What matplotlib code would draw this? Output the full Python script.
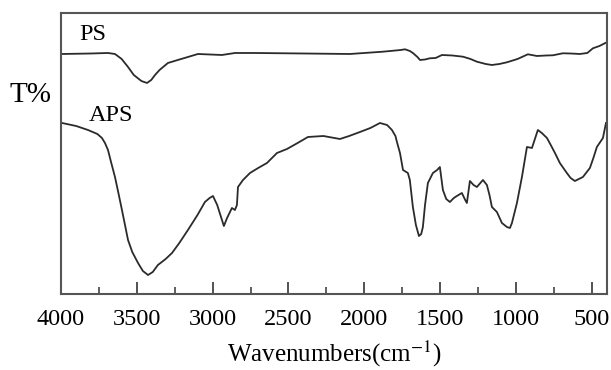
import matplotlib
matplotlib.use("Agg")
import matplotlib.pyplot as plt
from matplotlib.ticker import MultipleLocator

plt.rcParams['font.family'] = ['Liberation Serif', 'DejaVu Serif']
plt.rcParams['mathtext.fontset'] = 'stix'

# PS spectrum (wavenumber cm-1, relative transmittance)
ps_wn = [3993, 3800, 3690, 3644, 3600, 3558, 3520, 3470, 3433, 3405, 3380, 3350,
         3295, 3230, 3163, 3097, 2939, 2853, 2721, 2400, 2095, 1877, 1760, 1732,
         1700, 1680, 1650, 1633, 1600, 1568, 1530, 1488, 1420, 1350, 1300, 1258,
         1200, 1159, 1110, 1060, 990, 922, 862, 800, 757, 691, 640, 579, 530,
         493, 450, 407]
ps_t = [246, 246.5, 247, 246, 241, 233, 225, 219, 217, 220, 225, 230,
        237, 240, 243, 246, 245, 247, 247, 246.5, 246, 248.3, 250, 250.7,
        249, 247, 243, 240, 240.5, 241.7, 242, 245, 244.5, 243.3, 241, 238.3,
        236, 235, 236, 237.7, 241, 245.7, 244, 244.5, 244.7, 246.7, 246.5, 246, 247,
        251.7, 254, 257.3]

# APS spectrum
aps_wn = [3993, 3900, 3822, 3760, 3730, 3710, 3690, 3670, 3644, 3620, 3598, 3558,
          3530, 3492, 3460, 3426, 3395, 3361, 3310, 3268, 3220, 3163, 3100, 3051,
          3020, 2998, 2970, 2945, 2926, 2905, 2873, 2853, 2840, 2833, 2800, 2754,
          2700, 2642, 2576, 2510, 2440, 2372, 2270, 2161, 2100, 2029, 1960, 1897,
          1850, 1818, 1795, 1785, 1765, 1745, 1713, 1700, 1680, 1660, 1640, 1625,
          1614, 1600, 1581, 1548, 1520, 1502, 1482, 1460, 1436, 1410, 1390, 1357,
          1335, 1324, 1304, 1280, 1258, 1218, 1192, 1175, 1159, 1126, 1093, 1060,
          1040, 1027, 994, 961, 928, 895, 856, 830, 796, 764, 740, 711,
          665, 640, 612, 559, 513, 490, 467, 427, 407]
aps_t = [177, 174, 170, 166, 162, 157, 150, 138, 123, 106, 90, 60,
         48, 37, 29, 25, 28, 35, 41, 47, 57, 70, 85, 98,
         102, 104, 95, 83, 74, 82, 92, 90, 95, 113, 120, 127,
         132, 137, 147, 151, 157, 163, 164, 161, 164, 168, 172, 177,
         175, 170, 164, 158, 147, 130, 127, 120, 93, 75, 64, 66,
         73, 95, 117, 127, 130, 133, 110, 101, 98, 102, 104, 107,
         100, 97, 119, 115, 113, 120, 115, 105, 93, 88, 77, 73,
         72, 77, 97, 123, 153, 152, 170, 167, 162, 153, 146, 137,
         127, 122, 119, 123, 132, 142, 153, 162, 177]

fig = plt.figure(figsize=(6.11, 3.70), dpi=100)
ax = fig.add_axes([0.0998, 0.2054, 0.8937, 0.7595])

line_color = '#2b2b2b'
ax.plot(ps_wn, ps_t, color=line_color, lw=1.3, solid_joinstyle='round')
ax.plot(aps_wn, aps_t, color=line_color, lw=1.3, solid_joinstyle='round')

ax.set_xlim(4000, 400)
ax.set_ylim(6, 287)
ax.xaxis.set_major_locator(MultipleLocator(500))
ax.xaxis.set_minor_locator(MultipleLocator(250))
ax.tick_params(axis='x', which='major', direction='in', length=9, width=1.3,
               labelsize=17.5, pad=11, colors='#444444', labelcolor='black')
ax.tick_params(axis='x', which='minor', direction='in', length=5, width=1.2,
               colors='#444444')
ax.set_yticks([])
for s in ax.spines.values():
    s.set_color('#555555')
    s.set_linewidth(1.5)

ax.text(3880, 265, 'PS', fontsize=17.5, ha='left', va='center')
ax.text(3820, 184, 'APS', fontsize=17.5, ha='left', va='center')
fig.text(0.015, 0.743, 'T%', fontsize=21, ha='left', va='center')
ax.set_xlabel('Wavenumbers(cm$^{-1}$)', fontsize=18, labelpad=6)

fig.savefig('out.png', dpi=100)
